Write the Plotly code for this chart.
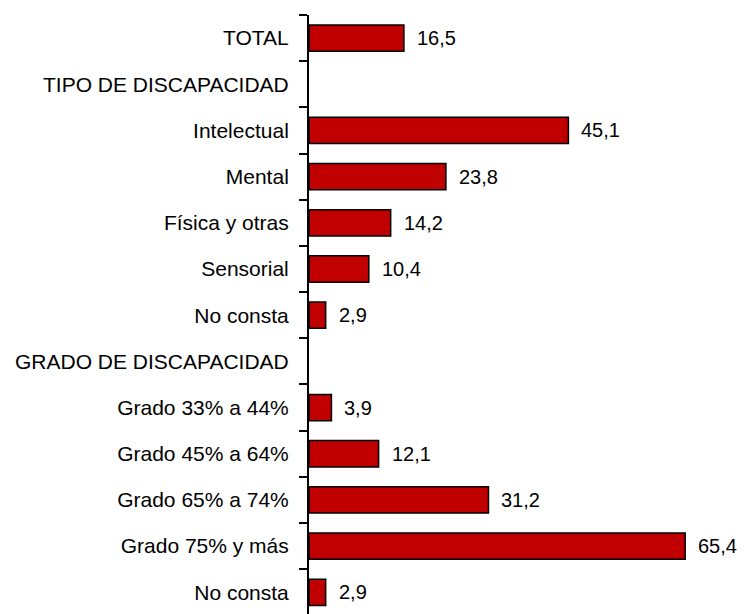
import plotly.graph_objects as go

categories = [
    "TOTAL",
    "TIPO DE DISCAPACIDAD",
    "Intelectual",
    "Mental",
    "Física y otras",
    "Sensorial",
    "No consta",
    "GRADO DE DISCAPACIDAD",
    "Grado 33% a 44%",
    "Grado 45% a 64%",
    "Grado 65% a 74%",
    "Grado 75% y más",
    "No consta",
]
values = [16.5, None, 45.1, 23.8, 14.2, 10.4, 2.9, None, 3.9, 12.1, 31.2, 65.4, 2.9]

positions = list(range(len(categories)))
FONT = "Liberation Sans, Arial, sans-serif"

fig = go.Figure()
fig.add_trace(go.Bar(
    x=values,
    y=positions,
    orientation="h",
    width=0.57,
    marker=dict(color="#C00000", line=dict(color="#000000", width=1.5)),
    hoverinfo="skip",
))

annotations = []
for p, v in zip(positions, values):
    if v is None:
        continue
    annotations.append(dict(
        x=v, y=p, xref="x", yref="y",
        text=f"{v:.1f}".replace(".", ","),
        showarrow=False, xanchor="left", yanchor="middle",
        xshift=11,
        font=dict(family=FONT, size=20, color="#000000"),
    ))

fig.update_layout(
    width=741, height=606,
    margin=dict(l=301, r=0, t=7, b=0, pad=0),
    paper_bgcolor="white", plot_bgcolor="white",
    showlegend=False,
    annotations=annotations,
    font=dict(family=FONT, size=21, color="#000000"),
    xaxis=dict(range=[0, 76.5], visible=False, showgrid=False, zeroline=False),
    yaxis=dict(
        range=[12.47, -0.5],
        tickmode="array", tickvals=positions, ticktext=categories,
        ticks="", ticklen=0, ticklabelstandoff=14,
        showgrid=False, zeroline=False,
        showline=True, linecolor="#000000", linewidth=2,
        tickfont=dict(family=FONT, size=21, color="#000000"),
        minor=dict(tickmode="linear", tick0=0.5, dtick=1, ticks="outside",
                   ticklen=8, tickwidth=2, tickcolor="#000000", showgrid=False),
    ),
)

fig.write_html("out.html")
